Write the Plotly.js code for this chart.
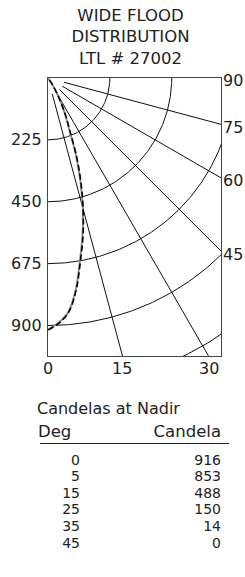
<!DOCTYPE html>
<html>
<head>
<meta charset="utf-8">
<script src="https://cdn.plot.ly/plotly-3.0.1.min.js"></script>
<style>html,body{margin:0;padding:0;background:#fff;}#chart{width:245px;height:577px;}</style>
</head>
<body>
<div id="chart"></div>
<script>
// ---- data ----
const titleLines = ["WIDE FLOOD", "DISTRIBUTION", "LTL # 27002"];
const angles = [0, 2.5, 5, 7.5, 10, 12.5, 15, 17.5, 20, 22.5, 25, 27.5, 30, 32.5, 35, 40, 45];
const candelaSolid  = [916, 890, 853, 775, 670, 580, 488, 390, 295, 200, 150, 103, 65, 35, 14, 3, 0];
const candelaDashed = [916, 893, 856, 780, 678, 588, 494, 398, 303, 208, 155, 107, 68, 37, 15, 3, 0];
const arcRadii = [225, 450, 675, 900, 1125];
const spokeAngles = [15, 30, 45, 60, 75];
const leftTicks = [225, 450, 675, 900];
const bottomLabels = [0, 15, 30];
const rightLabels = [90, 75, 60, 45];
const tableTitle = "Candelas at Nadir";
const tableHeaders = ["Deg", "Candela"];
const tableDeg = [0, 5, 15, 25, 35, 45];
const tableCandela = [916, 853, 488, 150, 14, 0];

// ---- layout geometry (pixels) ----
const W = 245, H = 577;
const box = {l: 48, r: 221, t: 78, b: 356};
const plotW = box.r - box.l, plotH = box.b - box.t;
const pxPerCd = 0.275;
const xMax = plotW / pxPerCd, yMax = plotH / pxPerCd;
const FONT = "DejaVu Sans";
const TXT = "#222";
const rad = d => d * Math.PI / 180;

const traces = [];
// arcs
arcRadii.forEach(r => {
  const xs = [], ys = [];
  for (let a = 0; a <= 90; a += 0.5) { xs.push(r * Math.sin(rad(a))); ys.push(-r * Math.cos(rad(a))); }
  traces.push({x: xs, y: ys, mode: 'lines', line: {color: '#111', width: 1}, hoverinfo: 'skip'});
});
// spokes
spokeAngles.forEach(a => {
  const r0 = 60, r1 = 3000;
  traces.push({x: [r0 * Math.sin(rad(a)), r1 * Math.sin(rad(a))], y: [-r0 * Math.cos(rad(a)), -r1 * Math.cos(rad(a))],
    mode: 'lines', line: {color: '#111', width: 1}, hoverinfo: 'skip'});
});
// distribution curves
function polar(vals) {
  return {x: vals.map((v, i) => v * Math.sin(rad(angles[i]))), y: vals.map((v, i) => -v * Math.cos(rad(angles[i])))};
}
const ps = polar(candelaSolid), pd = polar(candelaDashed);
traces.push({x: ps.x, y: ps.y, mode: 'lines', line: {color: '#8a8a8a', width: 1.8, shape: 'spline'}, hoverinfo: 'skip'});
traces.push({x: pd.x, y: pd.y, mode: 'lines', line: {color: '#000', width: 1.6, dash: '6px,3px', shape: 'spline'}, hoverinfo: 'skip'});

// ---- table as text traces on a pixel-coordinate overlay subplot ----
const titleFont = {family: FONT, size: 16, color: TXT};
const headFont = {family: FONT, size: 16.5, color: TXT};
const rowFont = {family: FONT, size: 14, color: TXT};
const rowY = tableDeg.map((d, i) => 461 + i * 16.6);
function textTrace(xs, ys, texts, pos, font) {
  return {x: xs, y: ys, text: texts, mode: 'text', textposition: pos, textfont: font,
    xaxis: 'x2', yaxis: 'y2', hoverinfo: 'skip', cliponaxis: false};
}
traces.push(textTrace([37], [410], [tableTitle], 'middle right', titleFont));
traces.push(textTrace([38], [433], [tableHeaders[0]], 'middle right', headFont));
traces.push(textTrace([221], [433], [tableHeaders[1]], 'middle left', headFont));
traces.push(textTrace(rowY.map(() => 80), rowY, tableDeg.map(String), 'middle left', rowFont));
traces.push(textTrace(rowY.map(() => 221), rowY, tableCandela.map(String), 'middle left', rowFont));

const annotations = [];
// bottom labels
bottomLabels.forEach(a => {
  annotations.push({x: yMax * Math.tan(rad(a)), xref: 'x', y: -yMax, yref: 'y', yanchor: 'top', yshift: -1,
    text: String(a), showarrow: false, font: {family: FONT, size: 16, color: TXT}});
});
// right labels
rightLabels.forEach(a => {
  const yv = a === 90 ? 0 : -xMax / Math.tan(rad(a));
  annotations.push({x: xMax, xref: 'x', xanchor: 'left', y: yv, yref: 'y', yanchor: 'middle', yshift: -3,
    text: String(a), showarrow: false, font: {family: FONT, size: 16, color: TXT}});
});

const layout = {
  width: W, height: H, margin: {l: 0, r: 0, t: 0, b: 0, pad: 0}, showlegend: false, hovermode: false,
  paper_bgcolor: '#fff', plot_bgcolor: 'rgba(0,0,0,0)',
  title: {text: titleLines.join('<br>'), x: 130.5 / W, xanchor: 'center', y: 1 - 21 / H, yanchor: 'top',
    font: {family: FONT, size: 16.5, color: TXT}},
  xaxis: {domain: [box.l / W, box.r / W], range: [0, xMax], showgrid: false, zeroline: false, showticklabels: false, ticks: '',
    showline: true, mirror: true, linecolor: '#444', linewidth: 1.2, fixedrange: true, anchor: 'y'},
  yaxis: {domain: [1 - box.b / H, 1 - box.t / H], range: [-yMax, 0], showgrid: false, zeroline: false, ticks: '',
    tickvals: leftTicks.map(v => -v), ticktext: leftTicks.map(String), ticklabelstandoff: 2,
    tickfont: {family: FONT, size: 16, color: TXT}, anchor: 'x',
    showline: true, mirror: true, linecolor: '#444', linewidth: 1.2, fixedrange: true},
  xaxis2: {domain: [0, 1], range: [0, W], visible: false, anchor: 'y2', fixedrange: true},
  yaxis2: {domain: [0, 1], range: [H, 0], visible: false, anchor: 'x2', fixedrange: true},
  annotations: annotations,
  shapes: [{type: 'line', xref: 'x2', yref: 'y2', x0: 40, x1: 229, y0: 443.5, y1: 443.5,
    line: {color: '#222', width: 1}}]
};
Plotly.newPlot('chart', traces, layout, {displayModeBar: false, staticPlot: true});
</script>
</body>
</html>
